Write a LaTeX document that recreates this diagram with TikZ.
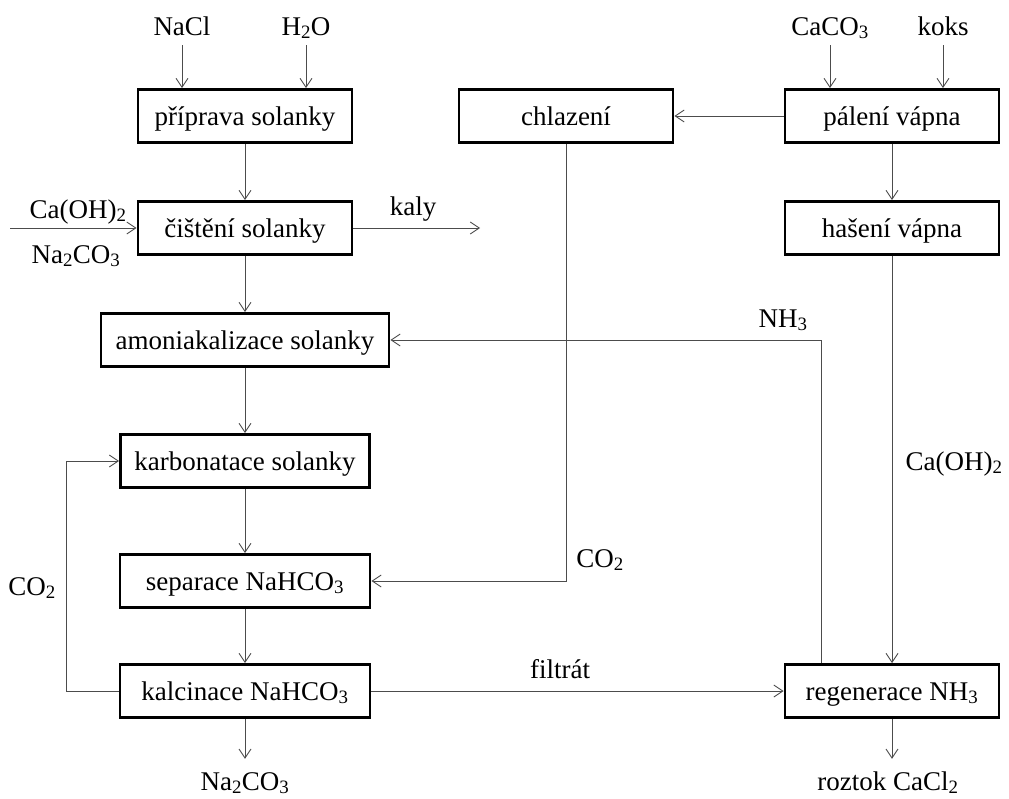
\documentclass[tikz,border=0pt]{standalone}
\usepackage{fontspec}
\setmainfont{Liberation Serif}
\usetikzlibrary{positioning,arrows.meta}
\newcommand{\chsub}[1]{\textsubscript{#1}}

\begin{document}
\begin{tikzpicture}[x=1pt, y=-1pt,
    box/.style={draw, line width=2.8pt, font=\fontsize{27}{32}\selectfont,
                minimum width=214pt, minimum height=53pt, inner sep=0pt,
                text height=21pt, text depth=3pt},
    lbl/.style={font=\fontsize{27}{32}\selectfont, inner sep=3pt,
                text height=19pt, text depth=7pt},
    arr/.style={-{Straight Barb[length=9pt,width=12pt]}, line width=0.9pt, draw=black!70}
  ]
    \useasboundingbox (0,0) rectangle (1009,798);
    \node[box] (prip) at (245,116) {příprava solanky};
    \node[box] (cist) at (245,228) {čištění solanky};
    \node[box, minimum width=288pt] (amon) at (245,340) {amoniakalizace solanky};
    \node[box, minimum width=249pt] (karb) at (245,461) {karbonatace solanky};
    \node[box, minimum width=250pt] (sep) at (245,581) {separace NaHCO\chsub{3}};
    \node[box, minimum width=250pt] (kalc) at (245,691) {kalcinace NaHCO\chsub{3}};
    \node[box] (chlaz) at (566,116) {chlazení};
    \node[box] (pal) at (892,116) {pálení vápna};
    \node[box] (has) at (892,228) {hašení vápna};
    \node[box] (regen) at (892,691) {regenerace NH\chsub{3}};
    \node[lbl] (nacl) at (182,29) {NaCl};
    \node[lbl] (h2o) at (306,29) {H\chsub{2}O};
    \node[lbl] (caco3) at (830,29) {CaCO\chsub{3}};
    \node[lbl] (koks) at (943,29) {koks};
    \node[lbl] (caoh) at (78,212) {Ca(OH)\chsub{2}};
    \node[lbl] (soda) at (76,257) {Na\chsub{2}CO\chsub{3}};
    \node[lbl] (kaly) at (413,209) {kaly};
    \node[lbl] (co2a) at (600,561) {CO\chsub{2}};
    \node[lbl] (nh3) at (783,321) {NH\chsub{3}};
    \node[lbl] (caohb) at (954,464) {Ca(OH)\chsub{2}};
    \node[lbl] (co2b) at (32,589) {CO\chsub{2}};
    \node[lbl] (filt) at (560,672) {filtrát};
    \node[lbl] (na2co3) at (245,784) {Na\chsub{2}CO\chsub{3}};
    \node[lbl] (cacl2) at (888,784) {roztok CaCl\chsub{2}};
    \coordinate (inl) at (10,228);
    \coordinate (outk) at (480,228);
    \draw[arr] (nacl) -- (nacl |- prip.north);
    \draw[arr] (h2o) -- (h2o |- prip.north);
    \draw[arr] (caco3) -- (caco3 |- pal.north);
    \draw[arr] (koks) -- (koks |- pal.north);
    \draw[arr] (prip) -- (cist);
    \draw[arr] (inl) -- (cist);
    \draw[arr] (cist) -- (outk);
    \draw[arr] (cist) -- (amon);
    \draw[arr] (amon) -- (karb);
    \draw[arr] (karb) -- (sep);
    \draw[arr] (sep) -- (kalc);
    \draw[arr] (pal) -- (chlaz);
    \draw[arr] (pal) -- (has);
    \draw[arr] (has) -- (regen);
    \draw[arr] (chlaz) |- (sep);
    \draw[arr] (kalc.west) -- ++(-52,0) |- (karb.west);
    \draw[arr] ([xshift=-71pt]regen.north) |- (amon);
    \draw[arr] (kalc) -- (regen);
    \draw[arr, shorten >=9pt] (kalc) -- (na2co3);
    \draw[arr, shorten >=9pt] (regen) -- (regen |- cacl2.north);
  \end{tikzpicture}
\end{document}
